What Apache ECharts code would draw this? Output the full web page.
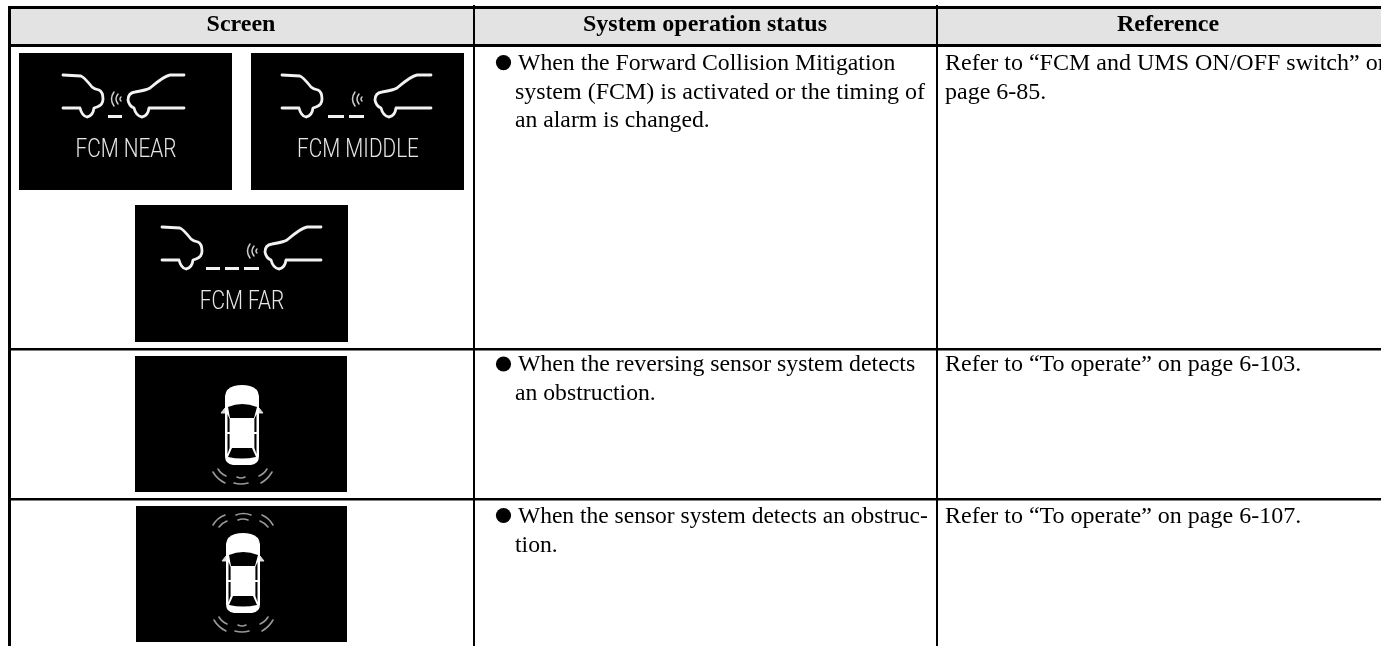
<!DOCTYPE html>
<html><head><meta charset="utf-8">
<style>html,body{margin:0;padding:0;background:#fff}#c{width:1381px;height:646px}</style>
<script src="https://cdn.jsdelivr.net/npm/echarts@6/dist/echarts.min.js"></script>
</head><body><div id="c"></div>
<script>
const headers = ["Screen", "System operation status", "Reference"];
const statusRows = [
  ["When the Forward Collision Mitigation", "system (FCM) is activated or the timing of", "an alarm is changed."],
  ["When the reversing sensor system detects", "an obstruction."],
  ["When the sensor system detects an obstruc-", "tion."]
];
const referenceRows = [
  ["Refer to \u201cFCM and UMS ON/OFF switch\u201d on", "page 6-85."],
  ["Refer to \u201cTo operate\u201d on page 6-103."],
  ["Refer to \u201cTo operate\u201d on page 6-107."]
];
const fcmLabels = ["FCM NEAR", "FCM MIDDLE", "FCM FAR"];

const SERIF = '"Liberation Serif","Times New Roman",serif';
const els = [];
const rect = (x,y,w,h,fill)=>({type:'rect',shape:{x,y,width:w,height:h},style:{fill}});
const txt = (text,x,y,font,extra)=>({type:'text',x,y,style:Object.assign({text,font,fill:'#000',textAlign:'left',textVerticalAlign:'middle'},extra||{})});
const path = (d,style)=>({type:'path',shape:{pathData:d},style});

els.push(rect(10,8,1371,37,'#e3e3e3'));
els.push(rect(8,6,1373,3,'#000'));
els.push(rect(8,44,1373,3,'#000'));
els.push(rect(8,6,3,640,'#000'));
els.push(rect(473,5,2,641,'#000'));
els.push(rect(936,5,2,641,'#000'));
els.push(rect(8,348,1373,2.5,'#000'));
els.push(rect(8,498,1373,2.5,'#000'));

const headC = [241, 705, 1168];
headers.forEach((h,i)=>els.push(txt(h,headC[i],24.5,'bold 24px '+SERIF,{textAlign:'center'})));
const lineH = [28.5, 29, 29];
const rowTop = [64.2, 365.2, 516.5];
const bulletY = [62.6, 364, 515.5];
const statusSize = [[23.75,24,23.7],[23.8,23.7],[23.5,23.7]];
statusRows.forEach((ls,r)=>{
  els.push({type:'circle',shape:{cx:503.5,cy:bulletY[r],r:7.6},style:{fill:'#000'}});
  ls.forEach((l,i)=>els.push(txt(l,i===0?518:515,rowTop[r]+i*lineH[r],statusSize[r][i]+'px '+SERIF)));
});
referenceRows.forEach((ls,r)=>ls.forEach((l,i)=>els.push(txt(l,945,rowTop[r]+i*lineH[r],'24px '+SERIF))));

const LINE = {fill:null,stroke:'#f2f2f2',lineWidth:2.8,lineJoin:'round',lineCap:'round'};
const leftCar = dx => `M${44+dx} 22 L${62+dx} 23 Q${65+dx} 24 ${73+dx} 34 Q${75+dx} 36 ${80+dx} 37 Q${84+dx} 39 ${84+dx} 46 Q${84+dx} 52 ${78+dx} 54 L${75+dx} 55 Q${74+dx} 63 ${68+dx} 64 Q${63+dx} 63 ${61+dx} 55 L${44+dx} 55`;
const rightCar = dx => `M${165+dx} 22 L${151+dx} 22 Q${145+dx} 23 ${131+dx} 35 Q${128+dx} 37 ${116+dx} 39 Q${109+dx} 40 ${109+dx} 47 Q${110+dx} 53 ${115+dx} 55 Q${117+dx} 63 ${123+dx} 64 Q${129+dx} 63 ${130+dx} 55 L${165+dx} 55`;
const waves = dx => `M${95+dx} 39 Q${90+dx} 46 ${95+dx} 53 M${99+dx} 41 Q${95+dx} 46 ${99+dx} 51 M${102+dx} 44 Q${100+dx} 46 ${102+dx} 48`;
function fcm(x,y,lab,lx,rx,wx,dashes,labelW){
  const c=[rect(0,0,213,137,'#000'),path(leftCar(lx),LINE),path(rightCar(rx),LINE),
    path(waves(wx),{fill:null,stroke:'#ccc',lineWidth:1.5,lineCap:'round'})];
  dashes.forEach(d=>c.push(rect(d[0],62,d[1]-d[0],3,'#f2f2f2')));
  c.push({type:'text',x:107,y:97,scaleX:labelW,style:{text:lab,font:'300 26px Roboto',fill:'#e6e6e6',textAlign:'center',textVerticalAlign:'middle'}});
  els.push({type:'group',x,y,children:c});
}
fcm(19,53,fcmLabels[0],0,0,0,[[89,103]],0.8);
fcm(251,53,fcmLabels[1],-13,15,9,[[77,93],[98,113]],0.8);
fcm(135,205,fcmLabels[2],-17,21,20,[[71,85],[90,104],[109,124]],0.8);

const ARC_REAR = 'M78 116 Q82 123 90 127 M83 113 Q86 118 91 120 M102 121 Q106 123 110 121 M99 127 Q106 129 113 127 M124 120 Q129 118 132 113 M126 127 Q133 123 137 116';
const ARC_FRONT = 'M77 21 Q81 14 89 11 M83 23 Q86 19 91 17 M100 11 Q107 8 115 11 M102 16 Q107 14 112 16 M124 17 Q129 19 132 23 M126 11 Q133 14 137 21';
function carTop(x,y,w,h,dy,front){
  const c=[rect(0,0,w,h,'#000')];
  const body=path('M90 50 L90 40 Q91 32 99 30 Q107 28 115 30 Q123 32 124 40 L124 100 Q124 108 116 109 L98 109 Q90 108 90 100 Z',{fill:'#fff'});
  const dark={fill:'#000'};
  const kids=[
    path('M86 57 L90 52 L90 57 Z M128 57 L124 52 L124 57 Z',{fill:'#ddd',stroke:'#ddd',lineWidth:1}),
    body,
    path('M93 51 Q107 45 122 51 L119 62 L95 62 Z',dark),
    path('M97 92 L117 92 L121 101 Q107 104 93 101 Z',dark),
    path('M92.5 58 L94.6 63 L94.6 76 L92.5 76 Z M92.5 78 L94.6 78 L94.6 92 L92.5 98 Z M121.5 58 L119.4 63 L119.4 76 L121.5 76 Z M121.5 78 L119.4 78 L119.4 92 L121.5 98 Z',dark),
    path(ARC_REAR,{fill:null,stroke:'#999',lineWidth:1.6,lineCap:'round'})
  ];
  if(front) kids.push(path(ARC_FRONT,{fill:null,stroke:'#999',lineWidth:1.6,lineCap:'round'}));
  c.push({type:'group',x:0,y:dy,children:kids});
  els.push({type:'group',x,y,children:c});
}
carTop(135,356,212,136,0,false);
carTop(136,506,211,136,-2,true);

const chart = echarts.init(document.getElementById('c'),null,{renderer:'canvas',width:1381,height:646});
chart.setOption({animation:false,backgroundColor:'#fff',series:[{type:'custom',coordinateSystem:'none',silent:true,data:[[0]],clip:false,
  renderItem:()=>({type:'group',children:els})}]});
</script></body></html>
